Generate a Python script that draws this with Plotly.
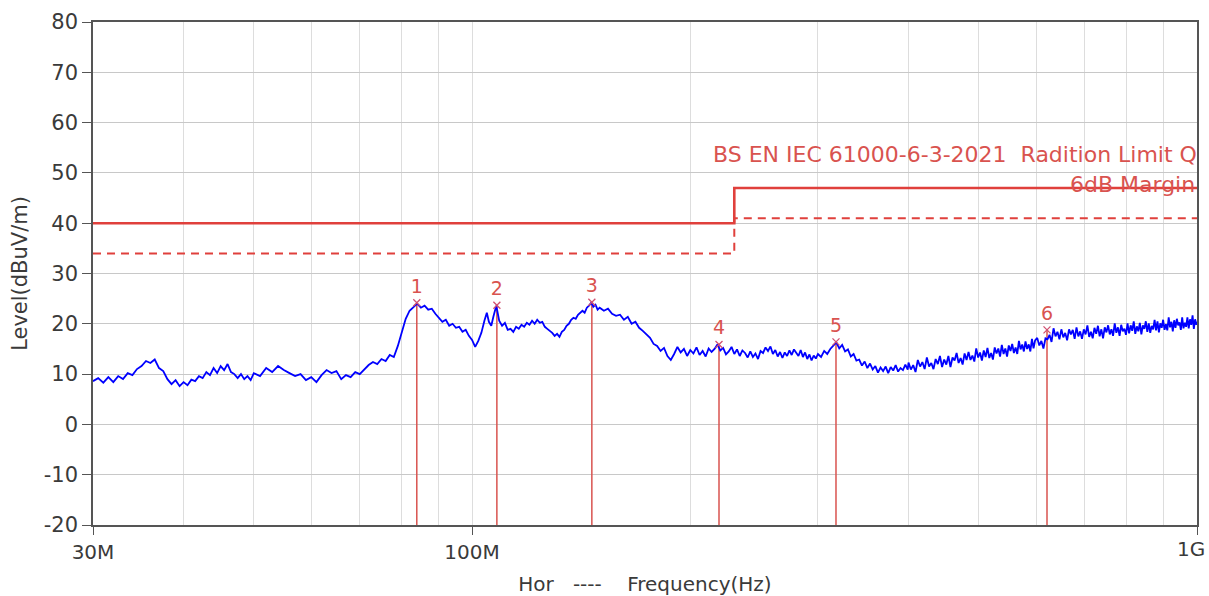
import plotly.graph_objects as go

# ---------------- data (frequency in MHz, level in dBuV/m) ----------------
spectrum_low = [
    (30, 8.6), (30.5, 9.2), (31, 8.3), (31.5, 9.4), (32, 8.4), (32.5, 9.6), (33, 9.0), (33.5, 10.2),
    (34, 9.8), (34.5, 11.0), (35, 11.6), (35.5, 12.6), (36, 12.2), (36.5, 12.9), (37, 11.2), (37.5, 10.6),
    (38, 9.0), (38.5, 8.0), (39, 8.8), (39.5, 7.6), (40, 8.4), (40.5, 7.8), (41, 8.9), (41.5, 8.6),
    (42, 9.6), (42.5, 9.2), (43, 10.4), (43.5, 9.8), (44, 11.2), (44.5, 10.2), (45, 11.6), (45.5, 10.8),
    (46, 12.0), (46.5, 10.4), (47, 10.0), (47.5, 9.2), (48, 10.0), (48.5, 9.0), (49, 9.6), (49.5, 8.8),
    (50, 10.2), (51, 9.6), (52, 11.2), (53, 10.4), (54, 11.6), (55, 10.8), (56, 10.2), (57, 9.6),
    (58, 10.0), (59, 8.8), (60, 9.4), (61, 8.4), (62, 9.8), (63, 10.8), (64, 10.2), (65, 10.6),
    (66, 9.0), (67, 9.8), (68, 9.4), (69, 10.4), (70, 10.0), (71, 11.0), (72, 11.8), (73, 12.4),
    (74, 12.0), (75, 13.0), (76, 12.6), (77, 13.8), (78, 13.4), (79, 15.6), (80, 18.2),
]
spectrum_mid = [
    (81, 21.0), (82, 22.6), (83, 23.4), (84, 24.0), (85, 23.2), (86, 23.6), (87, 22.8), (88, 23.0),
    (89, 22.0), (90, 21.2), (91, 20.4), (92, 20.8), (93, 19.6), (94, 20.0), (95, 19.2), (96, 19.4),
    (97, 18.4), (98, 18.8), (99, 17.6), (100, 16.8), (101, 15.4), (102, 16.6), (103, 18.2), (104, 20.6),
    (104.8, 22.2), (105.5, 20.4), (106.3, 19.6), (107, 21.4), (108, 23.6), (109, 20.6), (110, 19.6),
    (111, 20.2), (112, 18.8), (113, 19.0), (114, 18.4), (115, 19.4), (116, 19.0), (117, 19.8), (118, 19.4),
    (119, 20.2), (120, 19.8), (121, 20.6), (122, 20.0), (123, 20.8), (124, 20.2), (125, 20.4), (126, 19.4),
    (127, 19.0), (128, 18.6), (129, 18.2), (130, 17.6), (131, 18.0), (132, 17.4), (133, 18.4), (134, 18.8),
    (135, 19.6), (136, 20.0), (137, 20.8), (138, 21.2), (139, 21.0), (140, 21.8), (141, 22.2), (142, 22.6),
    (143, 22.2), (144, 23.2), (145, 23.6), (146, 24.2), (147, 23.4), (148, 23.8), (149, 22.8), (150, 23.2),
    (152, 22.6), (154, 23.0), (156, 22.0), (158, 21.6), (160, 21.8), (162, 20.8), (164, 21.4), (166, 20.0),
    (168, 20.4), (170, 19.2), (172, 18.6), (174, 17.8), (176, 17.2), (178, 16.0), (180, 15.6), (182, 14.6),
    (184, 15.2), (186, 13.6), (188, 12.8),
    (190, 14.0), (192, 15.4), (194, 14.3), (196, 15.0), (198, 13.6), (200, 14.8), (202, 14.1), (204, 15.3),
    (206, 13.8), (208, 14.6), (210, 13.5), (212, 15.1), (214, 14.4), (216, 15.0), (218, 15.9), (220, 14.7),
    (222, 15.2), (224, 13.9), (226, 14.5), (228, 15.4), (230, 14.0), (232, 14.9), (234, 13.6), (236, 14.7),
    (238, 14.2), (240, 13.3), (242, 14.5), (244, 13.4), (246, 14.1), (248, 13.0), (250, 14.6), (252, 14.2),
    (254, 15.3), (256, 14.6), (258, 15.5), (260, 14.0), (262, 14.8), (264, 13.5), (266, 14.4), (268, 13.2),
    (270, 14.3), (272, 13.6), (274, 14.7), (276, 13.8), (278, 14.9), (280, 14.2), (282, 13.6), (284, 14.8),
    (286, 13.4), (288, 14.3), (290, 13.0), (292, 13.9), (294, 12.7), (296, 13.7), (298, 13.1), (300, 14.0),
    (303, 13.4), (306, 14.6), (309, 14.0), (312, 15.0), (315, 15.6), (318, 16.3), (321, 15.1), (324, 15.8),
    (327, 14.5), (330, 14.9), (333, 13.5), (336, 14.0), (339, 12.7), (342, 12.9), (345, 11.7), (348, 12.5),
    (351, 11.2), (354, 12.1), (357, 10.9), (360, 11.6), (363, 10.3), (366, 11.3), (369, 10.6), (372, 11.5),
    (375, 10.2), (378, 11.4), (381, 10.7), (384, 11.8), (387, 10.5), (390, 11.2), (393, 10.8), (396, 11.9),
    (399, 10.9),
]
spectrum_high = [
    (400, 12.3), (403, 10.9), (406, 11.8), (409, 10.4), (412, 12.8), (415, 11.5), (418, 12.4), (421, 11.0),
    (424, 13.3), (427, 11.5), (430, 12.2), (433, 11.0), (436, 13.0), (439, 12.0), (442, 13.6), (445, 11.4),
    (448, 12.9), (451, 11.9), (454, 13.6), (457, 11.4), (460, 13.3), (463, 12.7), (466, 14.2), (469, 12.2),
    (472, 13.2), (475, 11.9), (478, 14.1), (481, 12.8), (484, 14.4), (487, 12.8), (490, 13.7), (493, 12.5),
    (496, 15.1), (499, 13.3), (502, 14.3), (505, 12.7), (508, 14.7), (511, 13.4), (514, 15.2), (517, 13.2),
    (520, 14.2), (523, 12.9), (526, 15.3), (529, 14.1), (532, 15.1), (535, 13.5), (538, 15.8), (541, 14.0),
    (544, 15.1), (547, 13.5), (550, 15.7), (553, 14.6), (556, 16.0), (559, 14.2), (562, 15.3), (565, 14.0),
    (568, 16.6), (571, 14.9), (574, 15.9), (577, 14.5), (580, 16.5), (583, 15.0), (586, 15.9), (589, 14.5),
    (592, 17.0), (595, 15.1), (598, 16.7),
    (602, 17.2), (606, 15.7), (610, 16.6), (614, 15.1), (618, 17.1), (622, 16.9), (626, 17.8), (630, 16.4),
    (634, 19.1), (638, 17.5), (642, 18.4), (646, 16.9), (650, 18.9), (654, 17.3), (658, 18.2), (662, 16.7),
    (666, 18.9), (670, 17.9), (674, 18.8), (678, 17.0), (682, 19.3), (686, 17.5), (690, 18.5), (694, 17.0),
    (698, 18.9), (702, 17.9), (706, 19.7), (710, 17.4), (714, 18.4), (718, 17.1), (722, 19.2), (726, 18.0),
    (730, 19.6), (734, 17.5), (738, 18.9), (742, 17.1), (746, 19.3), (750, 18.3), (754, 19.7), (758, 17.9),
    (762, 18.9), (766, 17.6), (770, 20.1), (774, 18.2), (778, 19.3), (782, 17.6), (786, 19.8), (790, 18.5),
    (794, 19.0), (798, 17.8), (802, 20.1), (806, 18.1), (810, 19.7), (814, 18.6), (818, 20.5), (822, 18.0),
    (826, 19.5), (830, 18.5), (834, 20.2), (838, 17.9), (842, 19.7), (846, 19.0), (850, 20.5), (854, 18.4),
    (858, 20.1), (862, 18.2), (866, 19.6), (870, 18.9), (874, 20.8), (878, 18.7), (882, 20.5), (886, 18.3),
    (890, 20.1), (894, 19.2), (898, 20.8), (902, 18.8), (906, 19.9), (910, 18.7), (914, 21.3), (918, 19.3),
    (922, 20.4), (926, 18.5), (930, 20.7), (934, 19.2), (938, 21.0), (942, 19.7), (946, 20.3), (950, 18.8),
    (954, 21.3), (958, 19.1), (962, 20.2), (966, 19.4), (970, 21.3), (974, 19.1), (978, 20.9), (982, 19.8),
    (986, 21.7), (990, 19.0), (994, 20.9), (998, 19.8), (1000, 20.4),
]

limit_freq = [30, 230, 230, 1000]
limit_level = [40, 40, 47, 47]
margin_freq = [30, 230, 230, 1000]
margin_level = [34, 34, 41, 41]

marker_freq = [83.9, 108.2, 146.3, 219.1, 317.7, 621]
marker_level = [24.2, 23.7, 24.3, 15.9, 16.4, 18.8]
marker_labels = ["1", "2", "3", "4", "5", "6"]

x_tick_vals = [30, 100, 1000]
x_tick_text = ["30M", "100M", "1G"]
x_minor_vals = [40, 50, 60, 70, 80, 90, 200, 300, 400, 500, 600, 700, 800, 900]
y_tick_vals = [-20, -10, 0, 10, 20, 30, 40, 50, 60, 70, 80]
y_tick_text = ["-20", "-10", "0", "10", "20", "30", "40", "50", "60", "70", "80"]

limit_title = "BS EN IEC 61000-6-3-2021  Radition Limit QP"
margin_title = "6dB Margin"

# ---------------- figure ----------------
spectrum = spectrum_low + spectrum_mid + spectrum_high
freq = [p[0] for p in spectrum]
level = [p[1] for p in spectrum]

RED = "#e0403c"
LABEL_RED = "#d9534f"
FONT = "DejaVu Sans"
TXT = "#3a3a3a"
Y_MIN = -20

fig = go.Figure()

# marker drop lines
drop_x, drop_y = [], []
for f, l in zip(marker_freq, marker_level):
    drop_x += [f, f, None]
    drop_y += [l, Y_MIN, None]
fig.add_trace(go.Scatter(x=drop_x, y=drop_y, mode="lines",
                         line=dict(color=LABEL_RED, width=1.5), hoverinfo="skip"))

# measured spectrum
fig.add_trace(go.Scatter(x=freq, y=level, mode="lines",
                         line=dict(color="#0000ff", width=1.8), name="Hor"))

# limit and margin
fig.add_trace(go.Scatter(x=limit_freq, y=limit_level, mode="lines",
                         line=dict(color=RED, width=2.6), name="Limit"))
fig.add_trace(go.Scatter(x=margin_freq, y=margin_level, mode="lines",
                         line=dict(color=RED, width=2, dash="8px,6px"), name="Margin"))

# marker crosses + numbers
fig.add_trace(go.Scatter(x=marker_freq, y=marker_level, mode="markers+text",
                         text=marker_labels, textposition="top center",
                         textfont=dict(family=FONT, size=19, color=LABEL_RED),
                         marker=dict(symbol="x-thin", size=7,
                                     line=dict(color="#d05070", width=1.3)),
                         cliponaxis=False))

# limit labels (clipped at the plot edge, as in the reference)
fig.add_trace(go.Scatter(x=[215], y=[53.2], mode="text", text=[limit_title],
                         textposition="middle right", cliponaxis=True,
                         textfont=dict(family=FONT, size=22, color=LABEL_RED)))
fig.add_trace(go.Scatter(x=[668], y=[47.3], mode="text", text=[margin_title],
                         textposition="middle right", cliponaxis=True,
                         textfont=dict(family=FONT, size=22, color=LABEL_RED)))

# last x tick label drawn as annotation so it stays inside the page
axis_tick_text = x_tick_text[:-1] + [""]
fig.add_annotation(x=3.0, xref="x", y=Y_MIN, yref="y", text=x_tick_text[-1],
                   showarrow=False, xanchor="right", yanchor="top",
                   xshift=10, yshift=-10, font=dict(family=FONT, size=20, color=TXT))

fig.update_layout(
    width=1209, height=596,
    margin=dict(l=93, r=12, t=22, b=71),
    paper_bgcolor="white", plot_bgcolor="white",
    showlegend=False,
    font=dict(family=FONT, size=20, color=TXT),
    xaxis=dict(
        type="log", range=[1.4771212547, 3.0], automargin=False,
        tickmode="array", tickvals=x_tick_vals, ticktext=axis_tick_text,
        tickfont=dict(size=20, color=TXT), ticklabeloverflow="allow",
        ticks="outside", ticklen=8, tickcolor="#555555", tickwidth=1.2,
        ticklabelstandoff=0,
        showgrid=True, gridcolor="#dddddd", gridwidth=1,
        minor=dict(tickmode="array", tickvals=x_minor_vals, showgrid=True,
                   gridcolor="#dddddd", gridwidth=1, ticks=""),
        showline=True, linecolor="#555555", linewidth=1.6, mirror=True,
        zeroline=False,
        title=dict(text="Hor\u00a0\u00a0 ----\u00a0\u00a0\u00a0 Frequency(Hz)",
                   font=dict(size=20, color=TXT), standoff=14),
    ),
    yaxis=dict(
        range=[-20, 80], automargin=False,
        tickmode="array", tickvals=y_tick_vals, ticktext=y_tick_text,
        tickfont=dict(size=21, color=TXT), ticklabeloverflow="allow",
        ticks="outside", ticklen=9, tickcolor="#555555", tickwidth=1.2,
        showgrid=True, gridcolor="#c8c8c8", gridwidth=1,
        showline=True, linecolor="#555555", linewidth=1.6, mirror=True,
        zeroline=False,
        title=dict(text="Level(dBuV/m)", font=dict(size=21, color=TXT), standoff=10),
    ),
)

fig.write_html("out.html", config={"displayModeBar": False},
               post_script="document.body.style.margin='0';document.body.style.overflow='hidden';")
